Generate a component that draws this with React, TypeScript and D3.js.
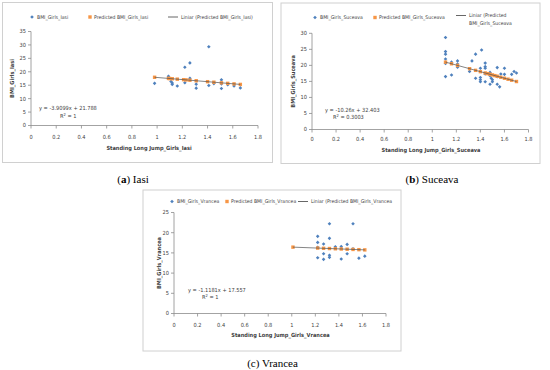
import React from "react";
import * as d3 from "d3";

// ---------- data ----------
const X_TICKS = [0, 0.2, 0.4, 0.6, 0.8, 1, 1.2, 1.4, 1.6, 1.8];
const X_TICK_LABELS = ["0", "0.2", "0.4", "0.6", "0.8", "1", "1.2", "1.4", "1.6", "1.8"];

const IASI_Y_TICKS = [0, 5, 10, 15, 20, 25, 30, 35];
const IASI_X = [0.98, 1.09, 1.1, 1.11, 1.12, 1.12, 1.16, 1.22, 1.22, 1.26, 1.26, 1.31, 1.31, 1.41, 1.41, 1.45, 1.51, 1.51, 1.51, 1.56, 1.61, 1.66];
const IASI_BMI = [15.7, 18.3, 17.6, 16.4, 15.8, 15.3, 14.7, 21.7, 15.9, 23.3, 17.6, 15.4, 13.9, 29.3, 14.9, 15.6, 17.0, 15.5, 13.8, 15.2, 14.7, 14.0];
const IASI_PRED_X = [0.98, 1.09, 1.1, 1.12, 1.16, 1.21, 1.23, 1.26, 1.31, 1.4, 1.45, 1.51, 1.56, 1.61, 1.66];
const IASI_PRED = [17.956, 17.526, 17.487, 17.409, 17.253, 17.057, 16.979, 16.862, 16.666, 16.314, 16.119, 15.884, 15.689, 15.493, 15.298];

const SUCEAVA_Y_TICKS = [0, 5, 10, 15, 20, 25, 30];
const SUCEAVA_X = [1.11, 1.11, 1.11, 1.11, 1.11, 1.11, 1.16, 1.16, 1.21, 1.21, 1.21, 1.31, 1.33, 1.36, 1.36, 1.41, 1.4, 1.4, 1.4, 1.4, 1.44, 1.44, 1.44, 1.44, 1.44, 1.48, 1.48, 1.48, 1.49, 1.5, 1.5, 1.54, 1.54, 1.54, 1.56, 1.57, 1.6, 1.6, 1.66, 1.68, 1.7];
const SUCEAVA_BMI = [28.7, 24.3, 23.5, 22.0, 20.6, 16.5, 17.0, 21.0, 21.4, 20.4, 19.4, 18.1, 21.4, 23.5, 16.0, 24.8, 19.1, 16.2, 15.5, 14.9, 20.7, 19.6, 19.1, 17.3, 14.9, 17.8, 16.8, 14.1, 16.0, 15.5, 14.9, 19.3, 16.5, 14.1, 13.3, 17.3, 19.1, 17.2, 17.2, 18.1, 17.6];
const SUCEAVA_PRED_X = [1.11, 1.16, 1.21, 1.31, 1.36, 1.4, 1.44, 1.46, 1.48, 1.5, 1.52, 1.54, 1.57, 1.6, 1.63, 1.66, 1.7];
const SUCEAVA_PRED = [21.014, 20.501, 19.988, 18.962, 18.449, 18.039, 17.629, 17.423, 17.218, 17.013, 16.808, 16.603, 16.295, 15.987, 15.679, 15.371, 14.961];

const VRANCEA_Y_TICKS = [0, 5, 10, 15, 20, 25];
const VRANCEA_X = [1.22, 1.22, 1.22, 1.22, 1.27, 1.27, 1.27, 1.32, 1.32, 1.32, 1.32, 1.37, 1.42, 1.42, 1.47, 1.47, 1.52, 1.52, 1.57, 1.62];
const VRANCEA_BMI = [19.1, 17.6, 16.4, 13.8, 17.2, 14.8, 13.4, 22.2, 18.6, 14.4, 13.9, 16.5, 16.6, 13.5, 17.1, 14.8, 22.2, 16.0, 13.7, 14.2];
const VRANCEA_PRED_X = [1.01, 1.22, 1.27, 1.32, 1.37, 1.42, 1.47, 1.52, 1.57, 1.62];
const VRANCEA_PRED = [16.428, 16.193, 16.137, 16.081, 16.025, 15.969, 15.913, 15.858, 15.802, 15.746];

// ---------- style ----------
const BLUE = "#4f81bd";
const ORANGE = "#f79646";
const AXIS = "#8c8c8c";
const FRAME = "#d0d0d0";
const TXT = "#404040";
const SANS = "'Liberation Sans Narrow', 'DejaVu Sans Condensed', Arial, sans-serif";
const SERIF = "'Liberation Serif', 'Times New Roman', serif";

type PanelProps = {
  frame: [number, number, number, number];
  xPx: [number, number];
  yPx: [number, number];
  yMax: number;
  yTicks: number[];
  bx: number[]; by: number[]; ox: number[]; oy: number[];
  legendY: number;
  leg: { blueX: number; blueT: string; orangeX: number; orangeT: string; lineX: number; lineT: string[]; lineY: number };
  yTitle: string; yTitleX: number;
  xTitle: string; xTitleX: number; xTitleY: number; xLabelY: number;
  eq: string; eqX: number; eqY: number; r2: string; r2X: number; r2Y: number;
};

const diamond = (cx: number, cy: number, r: number) => `M${cx},${cy - r}L${cx + r},${cy}L${cx},${cy + r}L${cx - r},${cy}Z`;

function Panel(p: PanelProps) {
  const x = d3.scaleLinear().domain([0, 1.8]).range(p.xPx);
  const y = d3.scaleLinear().domain([0, p.yMax]).range(p.yPx);
  const [fx, fy, fw, fh] = p.frame;
  const n = p.ox.length;
  const fs = 5.6;
  const lfs = 5.1;
  return (
    <g>
      <rect x={fx} y={fy} width={fw} height={fh} fill="#fff" stroke={FRAME} strokeWidth={1} />
      {/* legend */}
      <path d={diamond(p.leg.blueX, p.legendY, 1.8)} fill={BLUE} />
      <text x={p.leg.blueX + 5} y={p.legendY} dy="0.35em" fontSize={lfs} fill={TXT} fontFamily={SANS}>{p.leg.blueT}</text>
      <rect x={p.leg.orangeX - 1.7} y={p.legendY - 1.7} width={3.4} height={3.4} fill={ORANGE} />
      <text x={p.leg.orangeX + 4} y={p.legendY} dy="0.35em" fontSize={lfs} fill={TXT} fontFamily={SANS}>{p.leg.orangeT}</text>
      <line x1={p.leg.lineX} x2={p.leg.lineX + 10} y1={p.leg.lineY} y2={p.leg.lineY} stroke="#404040" strokeWidth={0.8} />
      {p.leg.lineT.map((t, i) => (
        <text key={i} x={p.leg.lineX + 13} y={p.leg.lineY + i * 7.5} dy="0.35em" fontSize={lfs} fill={TXT} fontFamily={SANS}>{t}</text>
      ))}
      {/* axes */}
      <line x1={p.xPx[0]} x2={p.xPx[0]} y1={p.yPx[0]} y2={p.yPx[1]} stroke={AXIS} strokeWidth={0.8} />
      <line x1={p.xPx[0]} x2={p.xPx[1]} y1={p.yPx[0]} y2={p.yPx[0]} stroke={AXIS} strokeWidth={0.8} />
      {p.yTicks.map((t) => (
        <g key={"y" + t}>
          <line x1={p.xPx[0] - 3} x2={p.xPx[0]} y1={y(t)} y2={y(t)} stroke={AXIS} strokeWidth={0.8} />
          <text x={p.xPx[0] - 5} y={y(t)} dy="0.35em" textAnchor="end" fontSize={fs} fill={TXT} fontFamily={SANS}>{t}</text>
        </g>
      ))}
      {X_TICKS.map((t, i) => (
        <g key={"x" + i}>
          <line x1={x(t)} x2={x(t)} y1={p.yPx[0]} y2={p.yPx[0] + 3} stroke={AXIS} strokeWidth={0.8} />
          <text x={x(t)} y={p.xLabelY} dy="0.35em" textAnchor="middle" fontSize={fs} fill={TXT} fontFamily={SANS}>{X_TICK_LABELS[i]}</text>
        </g>
      ))}
      <text x={p.xTitleX} y={p.xTitleY} dy="0.35em" textAnchor="middle" fontSize={fs} fontWeight="bold" fill={TXT} fontFamily={SANS}>{p.xTitle}</text>
      <text transform={`translate(${p.yTitleX},${(p.yPx[0] + p.yPx[1]) / 2}) rotate(-90)`} dy="0.35em" textAnchor="middle" fontSize={fs} fontWeight="bold" fill={TXT} fontFamily={SANS}>{p.yTitle}</text>
      {/* points */}
      {p.bx.map((v, i) => (
        <path key={"b" + i} d={diamond(x(v), y(p.by[i]), 1.8)} fill={BLUE} />
      ))}
      {p.ox.map((v, i) => (
        <rect key={"o" + i} x={x(v) - 1.7} y={y(p.oy[i]) - 1.7} width={3.4} height={3.4} fill={ORANGE} />
      ))}
      <line x1={x(p.ox[0])} y1={y(p.oy[0])} x2={x(p.ox[n - 1])} y2={y(p.oy[n - 1])} stroke="#505050" strokeWidth={0.7} />
      {/* equation */}
      <text x={p.eqX} y={p.eqY} dy="0.35em" fontSize={fs} fill={TXT} fontFamily={SANS}>{p.eq}</text>
      <text x={p.r2X} y={p.r2Y} dy="0.35em" fontSize={fs} fill={TXT} fontFamily={SANS}>
        R<tspan dy="-2" fontSize={4}>2</tspan><tspan dy="2"> = {p.r2}</tspan>
      </text>
    </g>
  );
}

export default function App() {
  return (
    <svg width={550} height={370} style={{ position: "absolute", left: 0, top: 0, background: "#fff" }}>
      <rect width={550} height={370} fill="#fff" />
      <Panel
        frame={[2.5, 2.5, 270, 160]}
        xPx={[31, 258]} yPx={[125.5, 31.5]} yMax={35} yTicks={IASI_Y_TICKS}
        bx={IASI_X} by={IASI_BMI} ox={IASI_PRED_X} oy={IASI_PRED}
        legendY={17}
        leg={{ blueX: 32, blueT: "BMI_Girls_Iasi", orangeX: 90, orangeT: "Predicted BMI_Girls_Iasi", lineX: 168, lineT: ["Liniar (Predicted BMI_Girls_Iasi)"], lineY: 17 }}
        yTitle="BMI_Girls_Iasi" yTitleX={12}
        xTitle="Standing Long Jump_Girls_Iasi" xTitleX={149} xTitleY={148} xLabelY={137}
        eq="y = -3.9099x + 21.788" eqX={39} eqY={108} r2="1" r2X={60} r2Y={116}
      />
      <Panel
        frame={[281, 3, 259, 160.5]}
        xPx={[312, 528.5]} yPx={[129.5, 33.3]} yMax={30} yTicks={SUCEAVA_Y_TICKS}
        bx={SUCEAVA_X} by={SUCEAVA_BMI} ox={SUCEAVA_PRED_X} oy={SUCEAVA_PRED}
        legendY={17.5}
        leg={{ blueX: 315, blueT: "BMI_Girls_Suceava", orangeX: 375, orangeT: "Predicted BMI_Girls_Suceava", lineX: 456, lineT: ["Liniar (Predicted", "BMI_Girls_Suceava"], lineY: 15.5 }}
        yTitle="BMI_Girls_Suceava" yTitleX={293}
        xTitle="Standing Long Jump_Girls_Suceava" xTitleX={431} xTitleY={150} xLabelY={139}
        eq="y = -10.26x + 32.403" eqX={325} eqY={110} r2="0.3003" r2X={333} r2Y={117.5}
      />
      <Panel
        frame={[143, 190, 258, 161]}
        xPx={[174, 386]} yPx={[313.5, 212.5]} yMax={25} yTicks={VRANCEA_Y_TICKS}
        bx={VRANCEA_X} by={VRANCEA_BMI} ox={VRANCEA_PRED_X} oy={VRANCEA_PRED}
        legendY={201.5}
        leg={{ blueX: 172, blueT: "BMI_Girls_Vrancea", orangeX: 227, orangeT: "Predicted BMI_Girls_Vrancea", lineX: 298, lineT: ["Liniar (Predicted BMI_Girls_Vrancea"], lineY: 201.5 }}
        yTitle="BMI_Girls_Vrancea" yTitleX={159}
        xTitle="Standing Long Jump_Girls_Vrancea" xTitleX={280.5} xTitleY={335.5} xLabelY={325}
        eq="y = -1.1181x + 17.557" eqX={188} eqY={290} r2="1" r2X={202} r2Y={297.5}
      />
      {/* captions */}
      <text x={133} y={183} textAnchor="middle" fontSize={11} fill="#000" fontFamily={SERIF}>
        (<tspan fontWeight="bold">a</tspan>) Iasi
      </text>
      <text x={432} y={183} textAnchor="middle" fontSize={11} fill="#000" fontFamily={SERIF}>
        (<tspan fontWeight="bold">b</tspan>) Suceava
      </text>
      <text x={272.5} y={367} textAnchor="middle" fontSize={11} fill="#000" fontFamily={SERIF}>
        (c) Vrancea
      </text>
    </svg>
  );
}
